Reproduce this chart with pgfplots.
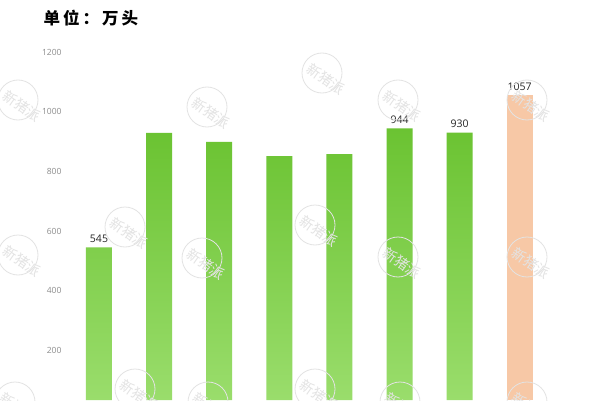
\documentclass[border=0pt]{standalone}
\usepackage{pgfplots}
\pgfplotsset{compat=1.18}
\usepackage{fontspec}
\setmainfont{Open Sans}
\newfontfamily\cjk{Noto Sans CJK SC}
\definecolor{gtop}{HTML}{6BC332}
\definecolor{gbot}{HTML}{9ADD6C}
\definecolor{orng}{HTML}{F7C8A6}
\definecolor{tickgray}{HTML}{8C8C8C}
\begin{document}
\begin{tikzpicture}[x=1pt,y=1pt]
\clip (0,0) rectangle (600,400);
\fill[white] (0,0) rectangle (600,400);
\begin{axis}[
  at={(66pt,0pt)}, anchor=south west,
  scale only axis, width=534pt, height=348pt,
  xmin=-0.549, xmax=8.336,
  ymin=33.5, ymax=1200,
  axis line style={draw=none},
  tick style={draw=none},
  xtick=\empty,
  ytick={200,400,600,800,1000,1200},
  yticklabel style={font=\fontsize{8.5}{9}\selectfont, text=tickgray, xshift=-1pt},
  /pgf/number format/assume math mode=true,
  /pgf/number format/1000 sep={},
  ybar, bar width=26pt, bar shift=0pt,
  nodes near coords style={font=\fontsize{10.5}{11}\selectfont, text=black!85, yshift=1pt, /pgf/number format/1000 sep={}},
]
\addplot[draw=none, top color=gtop, bottom color=gbot] coordinates {(1,929) (2,899) (3,851) (4,858)};
\addplot[draw=none, top color=gtop, bottom color=gbot, nodes near coords] coordinates {(0,545) (5,944) (6,930)};
\addplot[draw=none, fill=orng, nodes near coords] coordinates {(7,1057)};
\end{axis}
\foreach \px/\py in {18/100,207/107,322/73,398/100,527/100,125/227,315/225,18/255,202/258,398/257,527/257,135/389,315/389,15/402,208/402,400/402,527/402}{
  \draw[black!11, line width=0.8pt] (\px,400-\py) circle (20);
  \node[rotate=-35, text=black!11, font=\cjk\fontsize{14}{15}\selectfont, inner sep=0pt] at (\px+4,394-\py) {新猪派};
}
\node[anchor=west, font=\cjk\bfseries\fontsize{16.5}{18}\selectfont] at (40,382) {单\hspace{3pt}位\hspace{3pt}：\hspace{3pt}万\hspace{3pt}头};
\node[anchor=east, font=\cjk\fontsize{10}{12}\selectfont, text=black!70] at (540,404) {数据来源：新猪派};
\end{tikzpicture}
\end{document}
